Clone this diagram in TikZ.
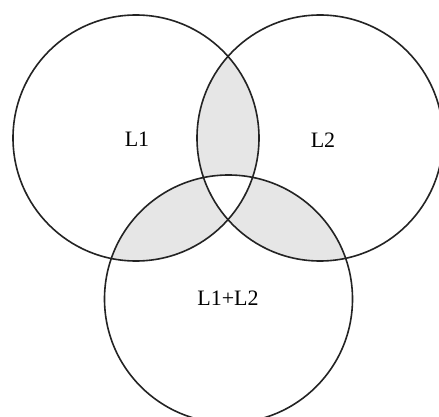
\documentclass[tikz,border=0pt]{standalone}
\usepackage{fontspec}
\setmainfont{Liberation Serif}
\definecolor{lensgray}{RGB}{230,230,230}
\definecolor{edgegray}{RGB}{35,35,35}
\begin{document}
\begin{tikzpicture}[x=1pt,y=-1pt,
  ring/.style={draw=edgegray,line width=1.6pt},
  lbl/.style={font=\fontsize{22}{24}\selectfont,text=black}]
\useasboundingbox (0,0) rectangle (439,417);
\coordinate (c1) at (136,138);
\coordinate (c2) at (320,138);
\coordinate (c3) at (228.5,299);
\def\rA{123}
\def\rC{124}
% pairwise lenses
\begin{scope}
  \clip (c1) circle[radius=\rA];
  \fill[lensgray] (c2) circle[radius=\rA];
  \fill[lensgray] (c3) circle[radius=\rC];
\end{scope}
\begin{scope}
  \clip (c2) circle[radius=\rA];
  \fill[lensgray] (c3) circle[radius=\rC];
\end{scope}
% triple region white
\begin{scope}
  \clip (c1) circle[radius=\rA];
  \clip (c2) circle[radius=\rA];
  \fill[white] (c3) circle[radius=\rC];
\end{scope}
\draw[ring] (c1) circle[radius=\rA];
\draw[ring] (c2) circle[radius=\rA];
\draw[ring] (c3) circle[radius=\rC];
\node[lbl] (l1) at (137,139) {L1};
\node[lbl] (l2) at (323,140) {L2};
\node[lbl] (l3) at (228,298) {L1+L2};
\end{tikzpicture}
\end{document}
